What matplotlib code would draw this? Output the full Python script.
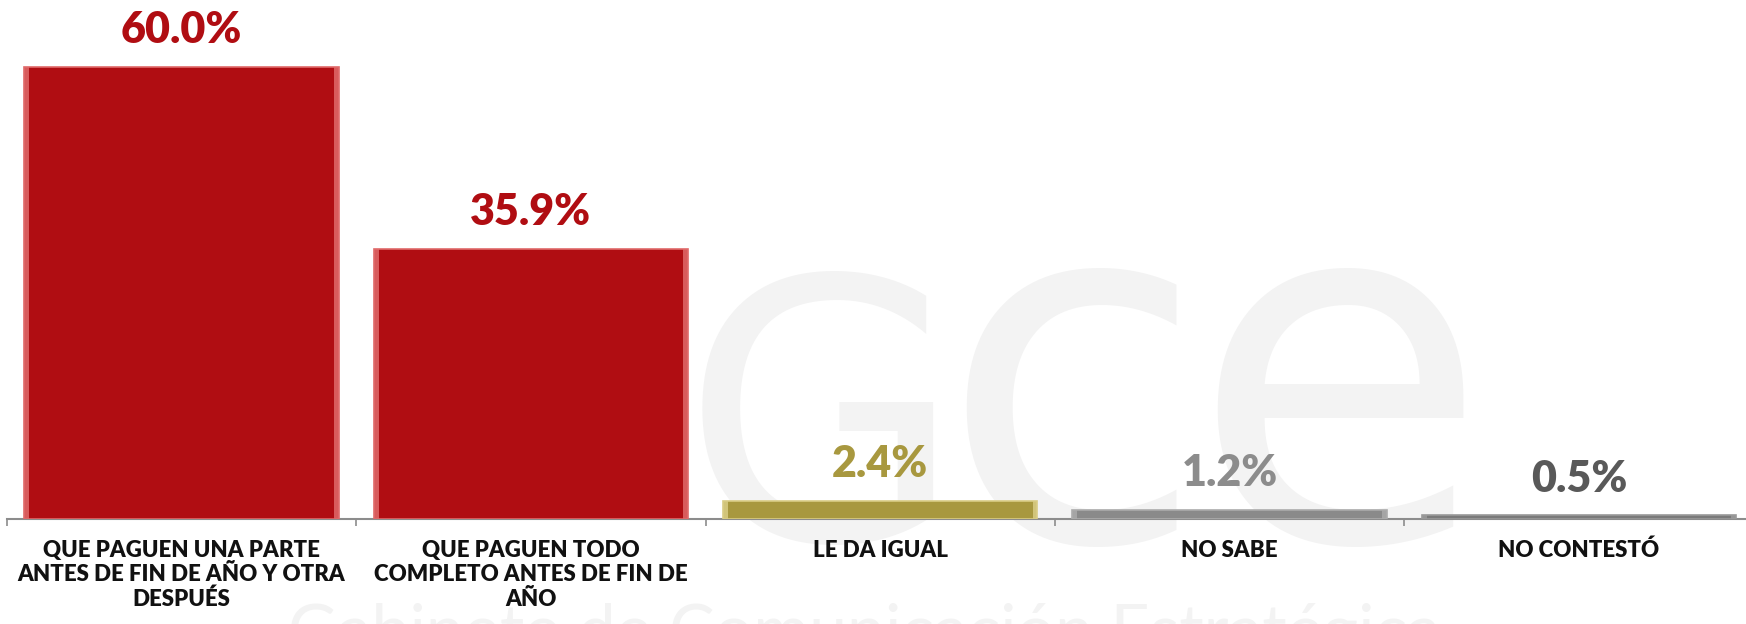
import matplotlib
matplotlib.use("Agg")
import matplotlib.pyplot as plt
from matplotlib.ticker import FixedLocator

categories = [
    "QUE PAGUEN UNA PARTE\nANTES DE FIN DE AÑO Y OTRA\nDESPUÉS",
    "QUE PAGUEN TODO\nCOMPLETO ANTES DE FIN DE\nAÑO",
    "LE DA IGUAL",
    "NO SABE",
    "NO CONTESTÓ",
]
values = [60.0, 35.9, 2.4, 1.2, 0.5]
value_labels = ["60.0%", "35.9%", "2.4%", "1.2%", "0.5%"]

bar_colors = ["#B00D12", "#B00D12", "#A8983F", "#8A8A8A", "#7A7A7A"]
edge_colors = ["#E06A6A", "#E06A6A", "#D9CC85", "#ABABAB", "#9A9A9A"]
label_colors = ["#B00D12", "#B00D12", "#A8983F", "#8C8C8C", "#595959"]

W, H = 1746, 624
fig = plt.figure(figsize=(W / 100, H / 100), dpi=100)
fig.patch.set_facecolor("white")

# faint watermark
wm = "#F3F3F3"
base = 0.135
fig.text(0.471, base, "G", fontsize=261, color=wm, family="DejaVu Sans",
         ha="center", va="baseline", zorder=-5)
fig.text(0.614, base, "c", fontsize=349, color=wm, family="DejaVu Sans",
         ha="center", va="baseline", zorder=-5)
fig.text(0.767, base, "e", fontsize=349, color=wm, family="DejaVu Sans",
         ha="center", va="baseline", zorder=-5)
fig.text(0.165, -0.045, "Gabinete de Comunicación Estratégica", fontsize=49,
         color=wm, family="Lato", ha="left", va="baseline", zorder=-5)

x0 = 7
cat_w = 349.3
ax = fig.add_axes([x0 / W, 105 / H, (W - x0) / W, 519 / H])
ax.set_facecolor("none")
ax.set_xlim(-0.5, -0.5 + (W - x0) / cat_w)
ax.set_ylim(0, 519 / 7.533)

xs = list(range(len(values)))
bw = 0.90
ax.bar(xs, values, width=bw, color=bar_colors, edgecolor=edge_colors,
       linewidth=1.2, zorder=3)
# bevel highlights on the sides
sw = 0.014
for sign in (-1, 1):
    ax.bar([x + sign * (bw / 2 - sw / 2) for x in xs], values, width=sw,
           color=edge_colors, linewidth=0, alpha=0.85, zorder=4)

for x, v, t, c in zip(xs, values, value_labels, label_colors):
    ax.annotate(t, (x, v), xytext=(0, 17), textcoords="offset points",
                ha="center", va="baseline", fontsize=31, fontweight="heavy",
                family="Lato", color=c, zorder=5)

for s in ("top", "right", "left"):
    ax.spines[s].set_visible(False)
ax.spines["bottom"].set_color("#8C8C8C")
ax.spines["bottom"].set_linewidth(1.5)
ax.spines["bottom"].set_zorder(2)

ax.set_yticks([])
ax.set_xticks(xs)
ax.set_xticklabels(categories, fontsize=16, fontweight="heavy", family="Lato",
                   color="#111111", linespacing=1.2)
ax.tick_params(axis="x", which="major", length=0, pad=15)
ax.xaxis.set_minor_locator(FixedLocator([i - 0.5 for i in range(len(values) + 1)]))
ax.tick_params(axis="x", which="minor", length=5, width=1.2, color="#8C8C8C",
               direction="out")

fig.savefig("out.png", dpi=100, facecolor="white")
